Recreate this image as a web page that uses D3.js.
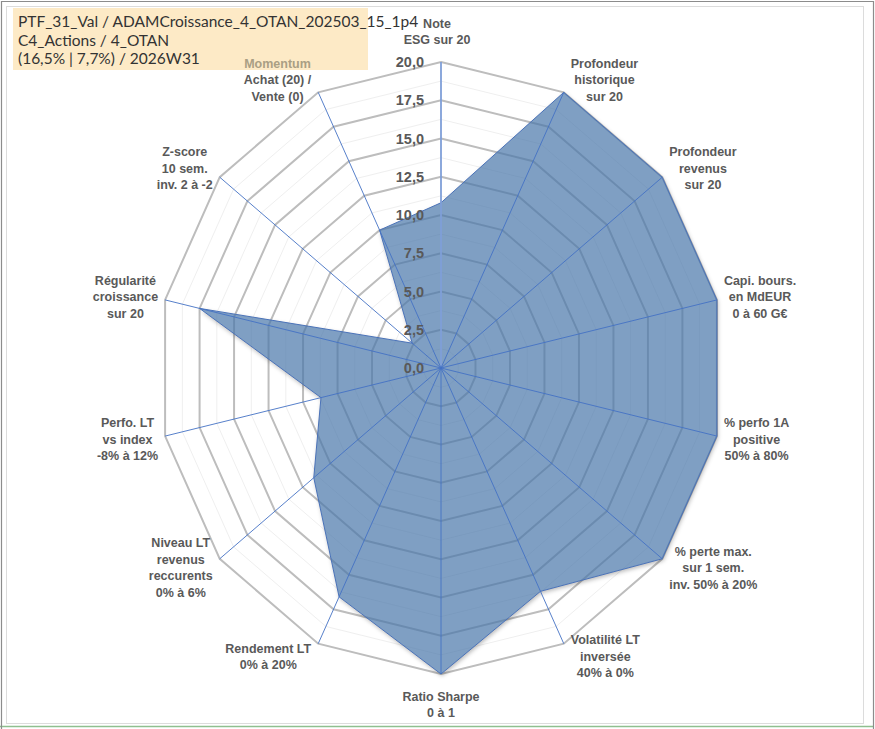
<!DOCTYPE html>
<html>
<head>
<meta charset="utf-8">
<script src="https://cdn.jsdelivr.net/npm/d3@7"></script>
<style>
  body { margin: 0; background: #fff; }
  svg { display: block; }
</style>
</head>
<body>
<svg id="radar" width="875" height="729"></svg>
<script>
// --- data ---
const titleLines = [
  'PTF_31_Val / ADAMCroissance_4_OTAN_202503_15_1p4',
  'C4_Actions / 4_OTAN',
  '(16,5% | 7,7%) / 2026W31'
];

const axisLabels = [
  ['Note', 'ESG sur 20'],
  ['Profondeur', 'historique', 'sur 20'],
  ['Profondeur', 'revenus', 'sur 20'],
  ['Capi. bours.', 'en MdEUR', '0 à 60 G€'],
  ['% perfo 1A', 'positive', '50% à 80%'],
  ['% perte max.', 'sur 1 sem.', 'inv. 50% à 20%'],
  ['Volatilité LT', 'inversée', '40% à 0%'],
  ['Ratio Sharpe', '0 à 1'],
  ['Rendement LT', '0% à 20%'],
  ['Niveau LT', 'revenus', 'reccurents', '0% à 6%'],
  ['Perfo. LT', 'vs index', '-8% à 12%'],
  ['Régularité', 'croissance', 'sur 20'],
  ['Z-score', '10 sem.', 'inv. 2 à -2'],
  ['Momentum', 'Achat (20) /', 'Vente (0)']
];

const scores = [10.8, 20, 20, 20, 20, 20, 16.2, 20, 16.6, 11.5, 8.7, 17.5, 2.6, 10.0];

const majorTicks = [0, 2.5, 5, 7.5, 10, 12.5, 15, 17.5, 20];
const minorTicks = [1.25, 3.75, 6.25, 8.75, 11.25, 13.75, 16.25, 18.75];

// --- layout ---
const cx = 441;
const cy = 368;
const radiusY = 306;
const radiusX = 283;

const svg = d3.select('#radar');

const frFormat = d3.formatLocale({
  decimal: ',', thousands: ' ', grouping: [3], currency: ['', ' €']
}).format('.1f');

const n = axisLabels.length;
const angle = d3.scaleLinear().domain([0, n]).range([0, 2 * Math.PI]);
const rx = d3.scaleLinear().domain([0, 20]).range([0, radiusX]);
const ry = d3.scaleLinear().domain([0, 20]).range([0, radiusY]);

const px = (i, v) => cx + rx(v) * Math.sin(angle(i));
const py = (i, v) => cy - ry(v) * Math.cos(angle(i));

const ringLine = d3.line().curve(d3.curveLinearClosed);
const ringPath = v => ringLine(d3.range(n).map(i => [px(i, v), py(i, v)]));
const seriesPath = ringLine(scores.map((v, i) => [px(i, v), py(i, v)]));

// frame
svg.append('rect')
  .attr('x', 6.5).attr('y', 6.5)
  .attr('width', 857).attr('height', 717)
  .attr('fill', '#fff')
  .attr('stroke', '#dcdcdc');
svg.append('line')
  .attr('x1', 0).attr('x2', 873).attr('y1', 726.5).attr('y2', 726.5)
  .attr('stroke', '#8fbf8f').attr('stroke-width', 1.5);
svg.append('path')
  .attr('d', 'M1.5,729 V1.5 H873.5 V729')
  .attr('fill', 'none')
  .attr('stroke', '#8c8c8c')
  .attr('stroke-width', 1.2);

// title box
const titleBox = svg.append('g').attr('id', 'title');
titleBox.append('rect')
  .attr('x', 13).attr('y', 8)
  .attr('width', 355).attr('height', 62)
  .attr('fill', '#fdeac6');
titleBox.selectAll('text')
  .data(titleLines)
  .enter()
  .append('text')
  .attr('x', 18)
  .attr('y', (d, i) => 27 + i * 18.5)
  .attr('font-family', 'Lato, "Open Sans", sans-serif')
  .attr('font-size', '15.5px')
  .attr('fill', '#333')
  .text(d => d);

// grid
const grid = svg.append('g').attr('id', 'grid');
grid.selectAll('.minor')
  .data(minorTicks)
  .enter()
  .append('path')
  .attr('class', 'minor')
  .attr('d', ringPath)
  .attr('fill', 'none')
  .attr('stroke', '#efefef')
  .attr('stroke-width', 1);
grid.selectAll('.major')
  .data(majorTicks.filter(t => t > 0))
  .enter()
  .append('path')
  .attr('class', 'major')
  .attr('d', ringPath)
  .attr('fill', 'none')
  .attr('stroke', '#bdbdbd')
  .attr('stroke-width', 2);

// series: soft shadow only outside the shape, then translucent fill
const defs = svg.append('defs');
defs.append('filter')
  .attr('id', 'blur')
  .attr('x', '-10%').attr('y', '-10%')
  .attr('width', '120%').attr('height', '120%')
  .append('feGaussianBlur')
  .attr('stdDeviation', 2);
const mask = defs.append('mask').attr('id', 'outside');
mask.append('rect')
  .attr('width', 875).attr('height', 729)
  .attr('fill', '#fff');
mask.append('path')
  .attr('d', seriesPath)
  .attr('fill', '#000');

svg.append('g')
  .attr('mask', 'url(#outside)')
  .append('path')
  .attr('d', seriesPath)
  .attr('transform', 'translate(1,2)')
  .attr('fill', '#000')
  .attr('fill-opacity', 0.28)
  .attr('filter', 'url(#blur)');

svg.append('path')
  .attr('id', 'series')
  .attr('d', seriesPath)
  .attr('fill', 'rgba(72,118,170,0.7)')
  .attr('stroke', '#4a72b8')
  .attr('stroke-width', 1);

// spokes
svg.append('g').attr('id', 'spokes')
  .selectAll('line')
  .data(d3.range(n))
  .enter()
  .append('line')
  .attr('x1', cx).attr('y1', cy)
  .attr('x2', i => px(i, 20))
  .attr('y2', i => py(i, 20))
  .attr('stroke', i => (i === 0 ? '#7f9fd8' : '#4472c4'))
  .attr('stroke-width', i => (i === 0 ? 1.8 : 0.9));

// value axis labels
svg.append('g').attr('id', 'ticks')
  .selectAll('text')
  .data(majorTicks)
  .enter()
  .append('text')
  .attr('x', cx - 17)
  .attr('y', d => cy - ry(d))
  .attr('dy', '0.36em')
  .attr('text-anchor', 'end')
  .attr('font-family', '"Liberation Sans", Arial, sans-serif')
  .attr('font-weight', 'bold')
  .attr('font-size', '14.5px')
  .attr('fill', '#595959')
  .text(d => frFormat(d));

// category labels
const lineH = 16.5;
const labels = svg.append('g').attr('id', 'labels')
  .selectAll('g')
  .data(axisLabels)
  .enter()
  .append('g');

labels.each(function (lines, i) {
  const g = d3.select(this);
  const texts = g.selectAll('text')
    .data(lines)
    .enter()
    .append('text')
    .attr('text-anchor', 'middle')
    .attr('font-family', '"Liberation Sans", Arial, sans-serif')
    .attr('font-weight', 'bold')
    .attr('font-size', '12.5px')
    .attr('fill', (d, j) => (i === n - 1 && j === 0 ? '#aa9f84' : '#595959'))
    .text(d => d);

  const w = d3.max(texts.nodes(), t => t.getComputedTextLength());
  const a = angle(i);
  const s = Math.sin(a);
  const c = Math.cos(a);
  const vx = px(i, 20);
  const vy = py(i, 20);
  let mx;
  let my;
  if (Math.abs(s) < 0.01) {
    mx = vx - 4 * (c > 0 ? 1 : 0);
    my = vy - Math.sign(c) * (lines.length * lineH / 2 + 14);
  } else {
    mx = vx + Math.sign(s) * (w / 2 + 7);
    my = vy - c * 14;
  }
  const firstBase = my - (lines.length - 1) * lineH / 2 + 4.5;
  texts
    .attr('x', mx)
    .attr('y', (d, j) => firstBase + j * lineH);
});
</script>
</body>
</html>
